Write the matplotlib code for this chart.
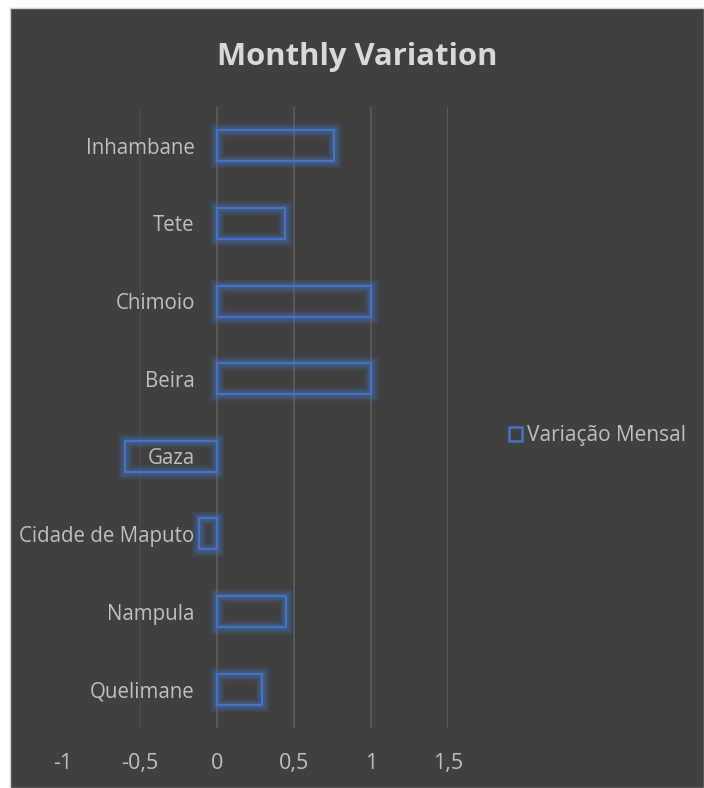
import matplotlib.pyplot as plt
import matplotlib.patheffects as pe
from matplotlib.patches import Patch, Rectangle
from matplotlib.ticker import FuncFormatter

plt.rcParams["font.family"] = ["Open Sans", "DejaVu Sans"]

# dados (de cima para baixo)
cidades = ["Inhambane", "Tete", "Chimoio", "Beira", "Gaza",
           "Cidade de Maputo", "Nampula", "Quelimane"]
variacao = [0.76, 0.44, 1.0, 1.0, -0.60, -0.12, 0.45, 0.29]
xticks = [-1, -0.5, 0, 0.5, 1, 1.5]

bg = "#404040"
azul = "#4472c4"
texto = "#bfbfbf"

fig = plt.figure(figsize=(7.04, 7.88), dpi=100, facecolor="white")
# fundo escuro da area do grafico
fig.patches.append(Rectangle((10 / 704, 0), 1 - 10 / 704, 1 - 8 / 788,
                             transform=fig.transFigure, facecolor=bg,
                             edgecolor="#d0d0d0", linewidth=1, zorder=-10))

ax = fig.add_axes([63 / 704, 1 - 728 / 788, 385 / 704, 621 / 788])
ax.set_facecolor("none")

y = range(len(cidades))
bars = ax.barh(y, variacao, height=0.4, facecolor="none", edgecolor=azul,
               linewidth=1.6, zorder=3)
# brilho suave
for b in bars:
    b.set_path_effects([pe.Stroke(linewidth=11, foreground=azul, alpha=0.10),
                        pe.Stroke(linewidth=8, foreground=azul, alpha=0.16),
                        pe.Stroke(linewidth=5, foreground=azul, alpha=0.25),
                        pe.Normal()])

ax.set_xlim(-1, 1.5)
ax.set_ylim(len(cidades) - 0.5, -0.5)
ax.set_yticks(list(y))
ax.set_yticklabels(cidades)
ax.set_xticks(xticks)
ax.xaxis.set_major_formatter(FuncFormatter(lambda v, p: ("%g" % v).replace(".", ",")))

ax.grid(axis="x", color="#5a5a5a", linewidth=1.3, zorder=1)
ax.grid(axis="y", visible=False)
gl = ax.get_xgridlines()
gl[0].set_color("#424242")
gl[1].set_color("#484848")
for s in ax.spines.values():
    s.set_visible(False)
ax.spines["left"].set_position(("data", 0))
ax.tick_params(axis="both", length=0, colors=texto)
ax.tick_params(axis="y", pad=16, labelsize=14.8)
ax.tick_params(axis="x", pad=18, labelsize=15.5)

fig.text(0.507, 1 - 57 / 788, "Monthly Variation", ha="center", va="center",
         fontsize=22.3, fontweight="bold", color="#d9d9d9")

handle = Patch(facecolor="none", edgecolor=azul, linewidth=1.8, label="Variação Mensal")
fig.legend(handles=[handle], loc="center left",
           bbox_to_anchor=(490 / 704, 1 - 436 / 788), frameon=False,
           handlelength=0.62, handleheight=0.62, handletextpad=0.25,
           labelcolor=texto, fontsize=15)

fig.savefig("out.png", dpi=100, facecolor=fig.get_facecolor())
